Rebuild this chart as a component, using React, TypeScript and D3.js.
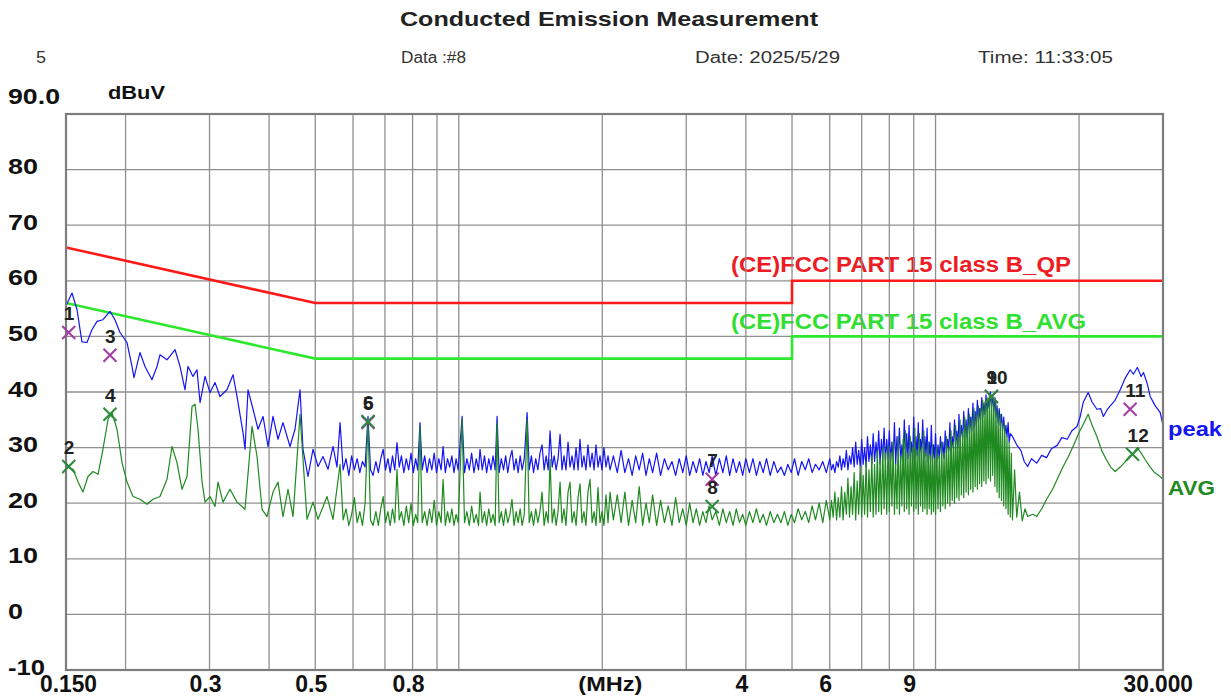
import React, { useRef, useEffect } from "react";
import * as d3 from "d3";

// ---- chart data (MHz, dBuV) ----
const peakTrace: [number, number][] = [
  [0.15, 55.5], [0.1544, 57.8], [0.1582, 54.8], [0.162, 49.0], [0.166, 48.9], [0.17, 51.2], [0.1742, 52.7],
  [0.1793, 53.0], [0.1855, 54.5], [0.19, 53.0], [0.1947, 50.7], [0.2014, 48.9], [0.2063, 44.6], [0.2083, 42.6],
  [0.2144, 47.1], [0.2197, 44.6], [0.2272, 42.2], [0.2328, 44.6], [0.2362, 46.7], [0.2443, 45.8], [0.254, 47.6],
  [0.2602, 44.6], [0.2665, 40.4], [0.2704, 44.6], [0.277, 42.8], [0.2824, 44.0], [0.2866, 38.1], [0.2936, 42.8],
  [0.3007, 39.9], [0.3081, 41.7], [0.3156, 39.2], [0.3264, 40.4], [0.3361, 43.1], [0.3426, 39.2], [0.3527, 32.7],
  [0.3561, 29.7], [0.3613, 40.4], [0.3702, 36.9], [0.3792, 33.3], [0.3885, 35.6], [0.398, 30.2], [0.4077, 35.6],
  [0.4176, 31.5], [0.4278, 34.5], [0.4426, 30.2], [0.4534, 33.3], [0.4645, 40.4], [0.4712, 29.7], [0.4827, 24.8],
  [0.4945, 29.7], [0.5067, 26.6], [0.519, 28.4], [0.5317, 26.1], [0.5447, 30.2], [0.5553, 26.5], [0.5636, 34.5],
  [0.572, 26], [0.58, 28], [0.588, 25], [0.596, 28.5], [0.604, 26], [0.612, 28], [0.62, 25.5], [0.628, 27.5],
  [0.636, 26.5], [0.645, 35.6], [0.653, 26], [0.661, 25], [0.67, 27.5], [0.678, 25.5], [0.686, 28], [0.694, 29.7],
  [0.702, 26], [0.71, 28], [0.718, 25.5], [0.726, 28.5], [0.734, 26], [0.742, 30.9], [0.75, 26.5], [0.758, 28.5],
  [0.767, 25.5], [0.776, 28], [0.785, 26], [0.794, 29], [0.803, 25.5], [0.812, 28], [0.82, 26], [0.829, 34.5],
  [0.838, 26], [0.848, 28.5], [0.858, 25.5], [0.868, 28], [0.878, 26], [0.888, 29], [0.898, 25.5], [0.908, 28],
  [0.918, 26], [0.927, 30.2], [0.937, 25.5], [0.947, 28], [0.957, 26.5], [0.967, 28.5], [0.977, 25.5], [0.987, 28],
  [0.997, 26], [1.016, 35.6], [1.028, 25.5], [1.04, 28], [1.052, 26], [1.064, 29], [1.076, 25.5], [1.088, 28],
  [1.1, 26], [1.108, 29.7], [1.12, 26], [1.132, 28.5], [1.144, 25.5], [1.156, 28], [1.168, 26], [1.18, 28.5],
  [1.192, 26], [1.203, 35.6], [1.215, 25.5], [1.228, 28], [1.241, 26], [1.254, 28.5], [1.267, 25.5], [1.28, 28],
  [1.293, 29.5], [1.306, 26], [1.319, 28], [1.332, 25.5], [1.345, 28.5], [1.358, 26], [1.372, 28], [1.391, 36.3],
  [1.405, 26], [1.42, 28.5], [1.435, 25.5], [1.45, 28], [1.465, 26], [1.48, 29], [1.495, 30.5], [1.51, 26],
  [1.525, 28.5], [1.54, 26], [1.554, 33], [1.57, 26.5], [1.585, 28.5], [1.6, 26], [1.615, 28], [1.631, 32.4],
  [1.646, 26], [1.662, 28.5], [1.678, 26], [1.695, 31], [1.711, 26.5], [1.728, 28.5], [1.745, 26], [1.762, 30],
  [1.779, 26], [1.796, 31.5], [1.813, 26.5], [1.83, 28.5], [1.848, 26], [1.866, 30.5], [1.885, 26.5], [1.904, 29],
  [1.922, 26], [1.94, 30.5], [1.959, 26.5], [1.978, 28.5], [1.997, 26], [2.016, 30], [2.036, 26.5], [2.056, 28.5],
  [2.076, 26],
  [2.11, 28.5], [2.15, 25.5], [2.19, 29.5], [2.23, 25.5], [2.27, 28], [2.31, 25], [2.35, 28.5], [2.39, 26],
  [2.43, 29], [2.47, 25], [2.51, 28], [2.55, 25.5], [2.6, 29], [2.65, 25], [2.7, 28], [2.75, 26], [2.8, 27.5],
  [2.85, 25], [2.9, 28], [2.95, 25.5], [3.0, 28.5], [3.05, 25], [3.1, 27.5], [3.15, 25.5], [3.2, 28], [3.25, 25],
  [3.3, 27.5], [3.35, 25.5], [3.4, 28.5], [3.46, 25], [3.52, 28], [3.58, 25.5], [3.64, 28.5], [3.7, 25], [3.76, 28],
  [3.82, 25.5], [3.88, 27.5], [3.94, 25], [4.0, 28], [4.07, 25.5], [4.14, 28], [4.21, 25], [4.28, 27.5],
  [4.35, 25.5], [4.42, 28], [4.5, 25], [4.58, 27.5], [4.66, 25.5], [4.74, 26.5], [4.82, 25], [4.9, 27],
  [4.98, 25.5], [5.06, 28], [5.15, 25], [5.24, 27.5], [5.33, 26], [5.42, 28], [5.51, 25.5], [5.6, 27], [5.7, 26],
  [5.8, 27.5], [5.9, 25.5],
  [6.0, 28], [6.05, 26], [6.1, 27], [6.15, 25.5], [6.2, 27.5], [6.25, 26.5], [6.3, 28.5], [6.35, 26], [6.4, 28],
  [6.45, 26.5], [6.5, 29.5], [6.55, 26], [6.6, 28.5], [6.65, 27], [6.7, 30], [6.75, 26.5], [6.8, 31], [6.85, 27],
  [6.9, 29.5], [6.95, 26.5], [7.0, 31.5], [7.05, 27], [7.1, 30], [7.15, 26.5], [7.2, 32], [7.25, 27.5], [7.3, 30.5],
  [7.35, 27], [7.4, 32.5], [7.45, 27.5], [7.5, 31], [7.55, 28], [7.6, 33], [7.65, 27], [7.7, 31.5], [7.75, 28],
  [7.8, 33.5], [7.85, 27.5], [7.9, 31.5], [7.95, 28],
  [8.0, 33], [8.05, 27.5], [8.1, 31], [8.15, 28], [8.2, 34.5], [8.25, 27], [8.3, 32], [8.35, 28.5], [8.4, 33.5],
  [8.45, 27.5], [8.5, 30.5], [8.55, 28], [8.6, 35], [8.65, 27.5], [8.7, 32.5], [8.75, 28], [8.8, 34], [8.85, 28.5],
  [8.9, 31], [8.95, 27.5], [9.0, 35.5], [9.05, 28], [9.1, 32], [9.15, 28.5], [9.2, 34.5], [9.25, 27.5], [9.3, 31.5],
  [9.35, 29], [9.4, 35], [9.45, 28], [9.5, 32], [9.55, 28.5], [9.6, 33.5], [9.65, 27.5], [9.7, 31], [9.75, 28],
  [9.8, 34], [9.85, 27.5], [9.9, 30.5], [9.95, 28], [10.0, 32.5], [10.06, 27.5], [10.12, 30.5], [10.18, 28],
  [10.24, 32], [10.3, 28.5], [10.36, 31], [10.42, 28], [10.48, 33], [10.54, 29], [10.6, 31.5], [10.66, 29.5],
  [10.72, 34.5], [10.78, 29], [10.84, 32], [10.9, 30], [10.96, 35], [11.02, 30.5], [11.08, 33], [11.14, 30],
  [11.2, 36], [11.26, 31], [11.33, 34], [11.4, 31.5], [11.46, 36.5], [11.52, 32], [11.59, 35], [11.65, 31.5],
  [11.72, 37], [11.78, 32.5], [11.85, 35.5], [11.91, 33], [11.98, 38], [12.04, 33.5], [12.11, 36.5], [12.17, 34],
  [12.24, 38.5], [12.3, 34.5], [12.37, 37], [12.43, 35], [12.5, 39], [12.56, 35.5], [12.63, 38], [12.7, 36],
  [12.76, 39.5], [12.83, 36.5], [12.9, 38.5], [12.97, 37], [13.04, 40], [13.11, 37.5], [13.18, 39.5], [13.25, 36.5],
  [13.32, 39], [13.39, 35.5], [13.46, 37.5], [13.53, 34.5], [13.6, 37], [13.67, 34], [13.75, 36], [13.82, 33],
  [13.9, 35.5], [13.97, 32.5], [14.05, 34], [14.12, 32], [14.2, 34.5], [14.27, 31], [14.35, 32.5],
  [14.5, 32], [14.8, 30.5], [15.1, 29.5], [15.35, 27.5], [15.6, 26.6], [15.9, 28], [16.3, 27.2], [16.7, 28.6],
  [17.1, 28.2], [17.5, 29.8], [18.0, 30.4], [18.4, 31.8], [18.9, 31.5], [19.3, 33], [19.8, 33.8], [20.1, 35.5],
  [20.4, 38.1], [20.9, 39.9], [21.3, 38.2], [21.8, 36.9], [22.2, 37], [22.5, 35.6], [22.9, 36.8], [23.2, 37.4],
  [23.8, 38.5], [24.4, 40.4], [25.0, 42.5], [25.6, 44], [26.0, 43.2], [26.5, 44.4], [27.0, 42.8], [27.3, 43.5],
  [27.8, 41.5], [28.2, 39.2], [28.9, 37.5], [29.6, 36.3], [30.0, 34],
];

const avgTrace: [number, number][] = [
  [0.15, 26.6], [0.1552, 26.1], [0.159, 23.8], [0.1628, 22.0], [0.1668, 24.8], [0.1709, 25.7], [0.1751, 25.2],
  [0.1793, 29.7], [0.1838, 35.1], [0.1873, 36.3], [0.1919, 33.3], [0.1966, 27.3], [0.2014, 23.8], [0.2073, 21.2],
  [0.2144, 20.7], [0.2218, 19.8], [0.2283, 20.7], [0.2362, 21.2], [0.2443, 24.3], [0.2503, 30.2], [0.2564, 27.3],
  [0.2627, 22.5], [0.2691, 24.8], [0.2757, 37.4], [0.2797, 37.8], [0.2838, 33.3], [0.2894, 23.8], [0.2936, 20.2],
  [0.3007, 21.2], [0.3081, 19.4], [0.3126, 23.8], [0.3202, 20.2], [0.3312, 22.5], [0.3426, 20.2], [0.3561, 18.9],
  [0.3684, 33.8], [0.3774, 28.4], [0.3866, 18.9], [0.396, 17.6], [0.4077, 22.0], [0.4176, 23.8], [0.4278, 17.6],
  [0.4383, 22.5], [0.4491, 17.6], [0.4645, 36.0], [0.4804, 17.1], [0.4945, 20.2], [0.5067, 17.1], [0.5292, 21.2],
  [0.5447, 17.1], [0.5636, 27],
  [0.572, 17], [0.58, 19], [0.588, 16], [0.596, 18], [0.604, 21], [0.612, 16.5], [0.62, 18.5], [0.628, 16],
  [0.636, 20], [0.645, 34.7], [0.653, 17], [0.661, 16], [0.67, 18.5], [0.678, 16], [0.686, 19], [0.694, 21.2],
  [0.702, 16.5], [0.71, 18.5], [0.718, 16], [0.726, 19], [0.734, 16.5], [0.742, 26.1], [0.75, 17], [0.758, 18.5],
  [0.767, 16], [0.776, 19.5], [0.785, 16.5], [0.794, 20], [0.803, 16], [0.812, 18], [0.82, 16.5], [0.829, 33.8],
  [0.838, 16.5], [0.848, 18.5], [0.858, 16], [0.868, 19], [0.878, 16.5], [0.888, 20.5], [0.898, 16], [0.908, 18.5],
  [0.918, 16.5], [0.927, 24.3], [0.937, 16], [0.947, 18.5], [0.957, 16.5], [0.967, 19], [0.977, 16], [0.987, 18],
  [0.997, 16.5], [1.016, 35.1], [1.028, 16.5], [1.04, 18.5], [1.052, 16], [1.064, 19.5], [1.076, 16.5], [1.088, 18],
  [1.1, 16], [1.108, 22], [1.12, 16.5], [1.132, 18.5], [1.144, 16], [1.156, 19], [1.168, 16.5], [1.18, 18],
  [1.192, 16], [1.203, 34.5], [1.215, 16.5], [1.228, 18.5], [1.241, 16], [1.254, 19], [1.267, 16.5], [1.28, 18],
  [1.293, 20.7], [1.306, 16], [1.319, 18.5], [1.332, 16.5], [1.345, 19], [1.358, 16], [1.372, 18], [1.391, 35.1],
  [1.405, 16.5], [1.42, 18.5], [1.435, 16], [1.45, 19], [1.465, 16.5], [1.48, 18.5], [1.495, 22], [1.51, 16],
  [1.525, 18.5], [1.54, 16.5], [1.554, 27.9], [1.57, 16.5], [1.585, 19], [1.6, 16], [1.615, 18.5], [1.631, 23.8],
  [1.646, 16.5], [1.662, 19], [1.678, 16], [1.695, 22], [1.711, 23.8], [1.728, 16.5], [1.745, 18.5], [1.762, 16],
  [1.779, 21], [1.796, 23.5], [1.813, 16.5], [1.83, 18.5], [1.848, 16], [1.866, 22], [1.885, 24.3], [1.904, 16.5],
  [1.922, 18.5], [1.94, 16], [1.959, 22.8], [1.978, 16.5], [1.997, 18.5], [2.016, 16], [2.036, 21.5], [2.056, 16.5],
  [2.076, 22],
  [2.11, 17], [2.15, 21.5], [2.19, 16.5], [2.23, 22], [2.27, 16], [2.31, 20.5], [2.35, 16.5], [2.39, 23], [2.43, 16],
  [2.47, 20], [2.51, 16.5], [2.55, 21.5], [2.6, 16], [2.65, 20.5], [2.7, 16.5], [2.75, 19.5], [2.8, 16], [2.85, 21],
  [2.9, 16.5], [2.95, 19], [3.0, 16], [3.05, 20], [3.1, 16.5], [3.15, 19], [3.2, 16], [3.25, 18.5], [3.3, 16.5],
  [3.35, 19.5], [3.4, 17], [3.46, 18.5], [3.52, 16], [3.58, 19], [3.64, 16.5], [3.7, 18.5], [3.76, 16], [3.82, 19],
  [3.88, 16.5], [3.94, 18], [4.0, 16], [4.07, 18.5], [4.14, 16.5], [4.21, 19], [4.28, 16.5], [4.35, 18], [4.42, 16],
  [4.5, 18.5], [4.58, 16.5], [4.66, 18], [4.74, 16.5], [4.82, 18.5], [4.9, 16], [4.98, 18], [5.06, 16.5], [5.15, 19],
  [5.24, 17], [5.33, 18.5], [5.42, 16.5], [5.51, 19.5], [5.6, 17], [5.7, 20], [5.8, 16.5], [5.9, 20.5],
  [6.0, 17], [6.05, 20.5], [6.1, 17.5], [6.15, 22], [6.2, 17], [6.25, 21], [6.3, 17.5], [6.35, 23], [6.4, 17],
  [6.45, 22], [6.5, 18], [6.55, 24.5], [6.6, 17.5], [6.65, 23], [6.7, 18], [6.75, 25.5], [6.8, 17], [6.85, 24],
  [6.9, 18], [6.95, 26.5], [7.0, 17.5], [7.05, 25], [7.1, 18], [7.15, 27.5], [7.2, 17.5], [7.25, 26], [7.3, 18.5],
  [7.35, 28.5], [7.4, 17.5], [7.45, 27], [7.5, 18], [7.55, 29.5], [7.6, 18.5], [7.65, 28], [7.7, 18], [7.75, 30],
  [7.8, 19], [7.85, 29], [7.9, 18], [7.95, 30.5],
  [8.0, 18.5], [8.05, 29], [8.1, 19.5], [8.15, 31], [8.2, 18], [8.25, 27], [8.3, 19], [8.35, 32], [8.4, 18],
  [8.45, 28.5], [8.5, 19.5], [8.55, 31.5], [8.6, 18.5], [8.65, 33], [8.7, 19], [8.75, 29], [8.8, 18], [8.85, 32],
  [8.9, 19.5], [8.95, 30], [9.0, 18.5], [9.05, 33.5], [9.1, 19], [9.15, 29.5], [9.2, 18], [9.25, 32.5], [9.3, 19.5],
  [9.35, 30], [9.4, 18.5], [9.45, 33], [9.5, 19], [9.55, 29], [9.6, 18], [9.65, 31], [9.7, 19], [9.75, 28.5],
  [9.8, 18], [9.85, 30.5], [9.9, 18.5], [9.95, 28], [10.0, 18], [10.06, 30], [10.12, 19], [10.18, 28.5],
  [10.24, 18.5], [10.3, 31], [10.36, 19.5], [10.42, 29], [10.48, 19], [10.54, 32], [10.6, 20], [10.66, 30],
  [10.72, 19.5], [10.78, 33], [10.84, 20.5], [10.9, 31], [10.96, 20], [11.02, 34], [11.08, 21], [11.14, 32],
  [11.2, 20.5], [11.26, 35], [11.33, 21.5], [11.4, 33], [11.46, 21], [11.52, 35.5], [11.59, 22], [11.65, 34],
  [11.72, 21.5], [11.78, 36], [11.85, 22.5], [11.91, 35], [11.98, 22], [12.04, 37], [12.11, 23], [12.17, 36],
  [12.24, 22.5], [12.3, 37.5], [12.37, 23.5], [12.43, 37], [12.5, 23], [12.56, 38.5], [12.63, 24], [12.7, 38],
  [12.76, 23.5], [12.83, 39], [12.9, 24.5], [12.97, 39.5], [13.04, 24], [13.11, 39], [13.18, 25], [13.25, 38.5],
  [13.32, 23], [13.39, 38], [13.46, 22], [13.53, 36.5], [13.6, 21], [13.67, 36], [13.75, 20.5], [13.82, 34.5],
  [13.9, 19.5], [13.97, 34], [14.05, 19], [14.12, 32], [14.2, 18], [14.27, 31], [14.35, 17.5], [14.42, 29],
  [14.5, 17],
  [14.65, 26], [14.8, 17.5], [15.0, 22], [15.2, 16.8], [15.4, 19], [15.6, 17.6], [16.0, 18], [16.3, 17.6],
  [16.7, 19], [17.1, 20.7], [17.6, 22.5], [18.0, 24.3], [18.5, 26.5], [19.0, 28.4], [19.5, 30.5], [20.0, 32.7],
  [20.5, 34.5], [20.9, 36], [21.3, 34], [21.8, 32], [22.3, 29.5], [22.8, 27.9], [23.3, 26.5], [23.8, 25.7],
  [24.4, 26.5], [24.9, 27.3], [25.5, 28.4], [26.0, 29], [26.5, 30], [27.0, 29], [27.5, 27.9], [28.2, 26.5],
  [28.8, 25.5], [29.4, 25], [30.0, 24.3],
];

const qpLimit: [number, number][] = [[0.15, 66], [0.5, 56], [5, 56], [5, 60], [30, 60]];
const avgLimit: [number, number][] = [[0.15, 56], [0.5, 46], [5, 46], [5, 50], [30, 50]];

const markerNo = ["1", "2", "3", "4", "5", "6", "7", "8", "9", "10", "11", "12"];
const markerFreq = [0.152, 0.152, 0.1855, 0.1855, 0.645, 0.645, 3.4, 3.4, 13.1, 13.1, 25.6, 25.9];
const markerLevel = [50.7, 26.6, 46.6, 36.0, 34.5, 34.7, 24.3, 19.4, 39.2, 39.2, 36.9, 28.8];
const markerKind = ["QP", "AVG", "QP", "AVG", "QP", "AVG", "QP", "AVG", "QP", "AVG", "QP", "AVG"];

const yGridValues = [80, 70, 60, 50, 40, 30, 20, 10, 0];
const yTickLabels = ["90.0", "80", "70", "60", "50", "40", "30", "20", "10", "0", "-10"];
const yTickValues = [90, 80, 70, 60, 50, 40, 30, 20, 10, 0, -10];
const xGridValues = [0.2, 0.3, 0.4, 0.5, 0.6, 0.7, 0.8, 0.9, 1, 2, 3, 4, 5, 6, 7, 8, 9, 10, 20];
const xTickValues = [0.15, 0.3, 0.5, 0.8, 4, 6, 9, 30];
const xTickLabels = ["0.150", "0.3", "0.5", "0.8", "4", "6", "9", "30.000"];

const FONT = "'Liberation Sans', Arial, Helvetica, sans-serif";

function Chart() {
  const svgRef = useRef<SVGSVGElement>(null);

  useEffect(() => {
    document.body.style.margin = "0";
    const svg = d3.select(svgRef.current);
    svg.selectAll("*").remove();

    const W = 1231, H = 699;
    const plot = { left: 66, right: 1163, top: 114, bottom: 670 };

    const x = d3.scaleLog().domain([0.15, 30]).range([plot.left, plot.right]);
    const y = d3.scaleLinear().domain([-10, 90]).range([plot.bottom, plot.top]);

    svg.attr("width", W).attr("height", H).style("background", "#fff");

    // helper for text with a fixed drawn width
    const text = (
      s: string, tx: number, ty: number,
      o: { size: number; weight?: string; fill?: string; anchor?: string; len?: number }
    ) => {
      const t = svg.append("text")
        .attr("x", tx).attr("y", ty)
        .attr("font-family", FONT)
        .attr("font-size", o.size)
        .attr("font-weight", o.weight || "normal")
        .attr("fill", o.fill || "#111")
        .attr("text-anchor", o.anchor || "start")
        .attr("dominant-baseline", "central")
        .text(s);
      if (o.len) t.attr("textLength", o.len).attr("lengthAdjust", "spacingAndGlyphs");
      return t;
    };

    // header
    text("Conducted Emission Measurement", 400, 18, { size: 21, weight: "bold", fill: "#222", len: 418 });
    text("5", 36, 57, { size: 17, fill: "#333", len: 10 });
    text("Data :#8", 401, 57, { size: 16, fill: "#333", len: 65 });
    text("Date: 2025/5/29", 695, 57, { size: 16, fill: "#333", len: 145 });
    text("Time: 11:33:05", 978, 57, { size: 16, fill: "#333", len: 135 });
    text("dBuV", 108, 92, { size: 19, weight: "bold", fill: "#111", len: 57 });

    // limit legends (under the grid)
    text("(CE)FCC PART 15 class B_QP", 731, 264, { size: 22, weight: "bold", fill: "#ee1c24", len: 340 });
    text("(CE)FCC PART 15 class B_AVG", 731, 321, { size: 22, weight: "bold", fill: "#2fe02f", len: 355 });

    // grid
    const grid = svg.append("g").attr("stroke", "#8f8f8f").attr("stroke-width", 1.3);
    grid.selectAll("line.h").data(yGridValues).join("line")
      .attr("class", "h")
      .attr("x1", plot.left).attr("x2", plot.right)
      .attr("y1", (d) => y(d)).attr("y2", (d) => y(d));
    grid.selectAll("line.v").data(xGridValues).join("line")
      .attr("class", "v")
      .attr("x1", (d) => x(d)).attr("x2", (d) => x(d))
      .attr("y1", plot.top).attr("y2", plot.bottom);

    // y tick labels
    yTickValues.forEach((v, i) => {
      const s = yTickLabels[i];
      const len = s.replace(/[.\-]/g, "").length * 15 + (s.match(/[.\-]/g) || []).length * 7;
      const ty = i === 0 ? y(v) - 18 : y(v) - 3;
      text(s, 8, ty, { size: 22, weight: "bold", fill: "#111", len });
    });

    // x tick labels
    xTickValues.forEach((f, i) => {
      const s = xTickLabels[i];
      const len = s.replace(/\./g, "").length * 12.5 + (s.match(/\./g) || []).length * 7;
      if (i === 0) text(s, x(f) - 26, 684, { size: 23, weight: "bold", len });
      else if (i === xTickValues.length - 1) text(s, x(f) + 30, 684, { size: 23, weight: "bold", anchor: "end", len });
      else text(s, x(f) - 4, 684, { size: 23, weight: "bold", anchor: "middle" });
    });
    text("(MHz)", x(2) + 8, 684, { size: 20, weight: "bold", anchor: "middle", len: 64 });

    // clip
    svg.append("clipPath").attr("id", "plotClip")
      .append("rect")
      .attr("x", plot.left).attr("y", plot.top)
      .attr("width", plot.right - plot.left).attr("height", plot.bottom - plot.top);

    const lineGen = d3.line<[number, number]>()
      .x((d) => x(d[0]))
      .y((d) => y(d[1]));

    const body = svg.append("g").attr("clip-path", "url(#plotClip)");

    body.append("path").datum(qpLimit).attr("d", lineGen)
      .attr("fill", "none").attr("stroke", "#ff1a1a").attr("stroke-width", 2.6);
    body.append("path").datum(avgLimit).attr("d", lineGen)
      .attr("fill", "none").attr("stroke", "#2ee82e").attr("stroke-width", 2.6);

    body.append("path").datum(peakTrace).attr("d", lineGen)
      .attr("fill", "none").attr("stroke", "#1414f5").attr("stroke-width", 1.2)
      .attr("stroke-linejoin", "round");
    body.append("path").datum(avgTrace).attr("d", lineGen)
      .attr("fill", "none").attr("stroke", "#1f8a1f").attr("stroke-width", 1.2)
      .attr("stroke-linejoin", "round");

    // border
    svg.append("rect")
      .attr("x", plot.left).attr("y", plot.top)
      .attr("width", plot.right - plot.left).attr("height", plot.bottom - plot.top)
      .attr("fill", "none").attr("stroke", "#7d7d7d").attr("stroke-width", 2.2);

    // trace names
    text("peak", 1168, 429, { size: 20, weight: "bold", fill: "#1414f5", len: 54 });
    text("AVG", 1168, 488, { size: 20, weight: "bold", fill: "#1f8a1f", len: 47 });

    // markers
    const mk = svg.append("g");
    markerNo.forEach((n, i) => {
      const mx = x(markerFreq[i]);
      const my = y(markerLevel[i]);
      const c = markerKind[i] === "QP" ? "#a33ca3" : "#2a8c3a";
      const r = 6.5;
      mk.append("path")
        .attr("d", `M${mx - r},${my - r}L${mx + r},${my + r}M${mx - r},${my + r}L${mx + r},${my - r}`)
        .attr("stroke", c).attr("stroke-width", 2).attr("fill", "none");
      mk.append("text")
        .attr("x", mx - 5).attr("y", my - 19)
        .attr("font-family", FONT).attr("font-size", 19).attr("font-weight", "bold")
        .attr("fill", "#222").attr("dominant-baseline", "central")
        .text(n);
    });
  }, []);

  return <svg ref={svgRef} style={{ display: "block" }}></svg>;
}

export default function App() {
  return <Chart />;
}
